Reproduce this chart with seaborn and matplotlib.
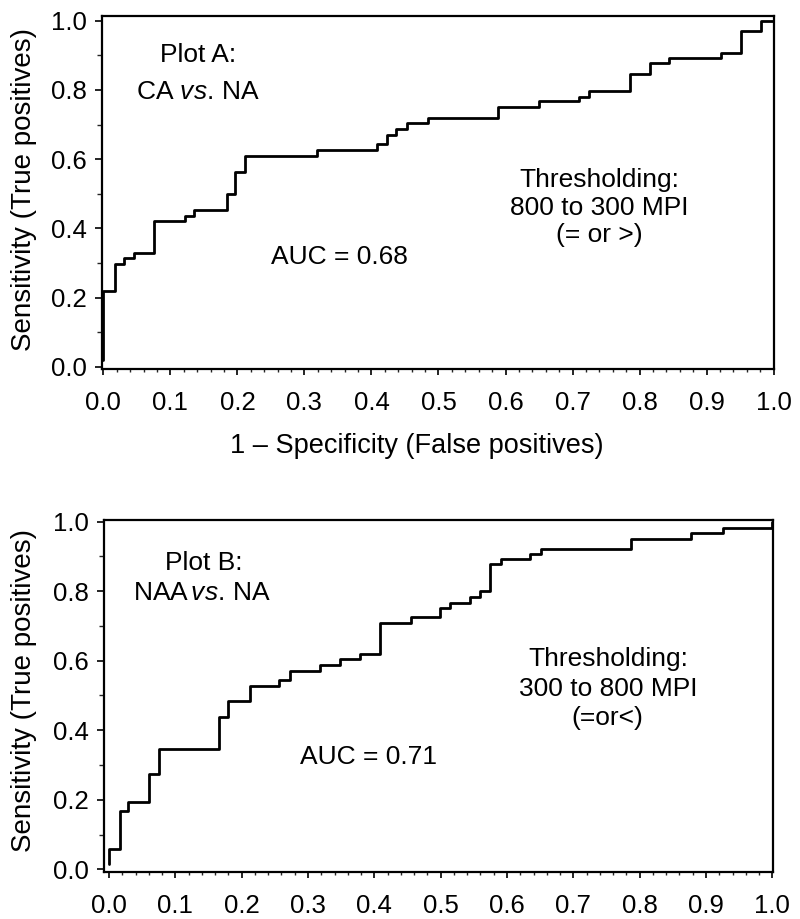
import numpy as np
import pandas as pd
import matplotlib
matplotlib.use("Agg")
import matplotlib.pyplot as plt
from matplotlib.ticker import MultipleLocator, FormatStrFormatter
import seaborn as sns

# ---- data (ROC step vertices: x where the jump happens, y after the jump) ----
fpr_a = [0.0, 0.0, 0.017, 0.031, 0.046, 0.076, 0.122, 0.136, 0.184, 0.197, 0.212,
         0.319, 0.408, 0.423, 0.437, 0.453, 0.485, 0.589, 0.650, 0.709, 0.724,
         0.785, 0.815, 0.844, 0.921, 0.951, 0.981, 1.0]
tpr_a = [0.02, 0.219, 0.296, 0.313, 0.329, 0.421, 0.436, 0.453, 0.498, 0.562, 0.610,
         0.626, 0.643, 0.671, 0.687, 0.703, 0.720, 0.751, 0.768, 0.780, 0.797,
         0.845, 0.877, 0.893, 0.908, 0.970, 1.0, 1.0]

fpr_b = [0.0, 0.0, 0.0166, 0.029, 0.061, 0.075, 0.166, 0.180, 0.212, 0.257, 0.273,
         0.318, 0.348, 0.378, 0.409, 0.455, 0.499, 0.514, 0.544, 0.559, 0.575,
         0.591, 0.635, 0.651, 0.787, 0.878, 0.925, 1.0]
tpr_b = [0.015, 0.058, 0.168, 0.195, 0.273, 0.346, 0.437, 0.485, 0.527, 0.545, 0.571,
         0.588, 0.604, 0.619, 0.709, 0.727, 0.751, 0.767, 0.784, 0.799, 0.877,
         0.892, 0.906, 0.921, 0.950, 0.966, 0.983, 1.0]

x_label = "1 \u2013 Specificity (False positives)"
y_label = "Sensitivity (True positives)"
title_a = ["Plot A:", "CA $\\mathit{vs.}\\,$NA"]
title_b = ["Plot B:", "NAA$\\,\\mathit{vs.}\\,$NA"]
auc_a = "AUC = 0.68"
auc_b = "AUC = 0.71"
thr_a = ["Thresholding:", "800 to 300 MPI", "(= or >)"]
thr_b = ["Thresholding:", "300 to 800 MPI", "(=or<)"]

sns.set_theme(style="white")
plt.rcParams['font.family'] = ['Liberation Sans', 'DejaVu Sans']
plt.rcParams['mathtext.fontset'] = 'custom'
plt.rcParams['mathtext.rm'] = 'Liberation Sans'
plt.rcParams['mathtext.it'] = 'Liberation Sans:italic'
plt.rcParams['text.color'] = 'black'

fig = plt.figure(figsize=(8, 9.19), dpi=100)
W, H = 800, 919

def px_axes(l, t, r, b):
    return fig.add_axes([l / W, 1 - b / H, (r - l) / W, (b - t) / H])

axA = px_axes(101.7, 15.7, 774, 369)
axB = px_axes(104.3, 520, 772.7, 872.3)

dfA = pd.DataFrame({"fpr": fpr_a, "tpr": tpr_a})
dfB = pd.DataFrame({"fpr": fpr_b, "tpr": tpr_b})

for ax, df, xl, yl in [(axA, dfA, (-0.0024, 1.0005), (-0.0066, 1.0145)),
                       (axB, dfB, (-0.0071, 1.0005), (-0.0086, 1.0046))]:
    sns.lineplot(data=df, x="fpr", y="tpr", ax=ax, drawstyle="steps-post",
                 sort=False, estimator=None, color="black", linewidth=2.0)
    ax.set_xlim(*xl)
    ax.set_ylim(*yl)
    for s in ax.spines.values():
        s.set_visible(True)
        s.set_color("black")
        s.set_linewidth(1.6)
    ax.xaxis.set_major_locator(MultipleLocator(0.1))
    ax.xaxis.set_minor_locator(MultipleLocator(0.02))
    ax.yaxis.set_major_locator(MultipleLocator(0.2))
    ax.yaxis.set_minor_locator(MultipleLocator(0.1))
    ax.xaxis.set_major_formatter(FormatStrFormatter("%.1f"))
    ax.yaxis.set_major_formatter(FormatStrFormatter("%.1f"))
    ax.tick_params(axis="x", which="major", direction="out", length=4.5, width=1.2,
                   pad=11, labelsize=18.5, colors="black", bottom=True)
    ax.tick_params(axis="x", which="minor", direction="out", length=2, width=1.0,
                   bottom=True)
    ax.tick_params(axis="y", which="major", direction="out", length=5, width=1.2,
                   pad=6, labelsize=18.5, colors="black", left=True)
    ax.tick_params(axis="y", which="minor", direction="out", length=3.5, width=1.0,
                   left=True)
    ax.set_xlabel("")
    ax.set_ylabel(y_label, fontsize=20, color="black")
    ax.grid(False)

axA.yaxis.set_label_coords(-0.1156, 0.509)
axB.yaxis.set_label_coords(-0.120, 0.517)
for ax in (axA, axB):
    ax.yaxis.label.set_verticalalignment("center")
    ax.yaxis.label.set_horizontalalignment("center")

axA.set_xlabel(x_label, fontsize=19.5, color="black")
axA.xaxis.set_label_coords(0.469, -0.218)
axA.xaxis.label.set_verticalalignment("center")

fs = 19
def put(ax, x, y, s):
    ax.text(x, y, s, transform=ax.transAxes, ha="center", va="center",
            fontsize=fs, color="black")

put(axA, 0.143, 0.889, title_a[0])
put(axA, 0.143, 0.785, title_a[1])
put(axA, 0.353, 0.318, auc_a)
put(axA, 0.740, 0.535, thr_a[0])
put(axA, 0.740, 0.455, thr_a[1])
put(axA, 0.740, 0.379, thr_a[2])

put(axB, 0.149, 0.878, title_b[0])
put(axB, 0.147, 0.792, title_b[1])
put(axB, 0.396, 0.328, auc_b)
put(axB, 0.754, 0.605, thr_b[0])
put(axB, 0.754, 0.519, thr_b[1])
put(axB, 0.752, 0.437, thr_b[2])

fig.savefig("out.png", dpi=100)
